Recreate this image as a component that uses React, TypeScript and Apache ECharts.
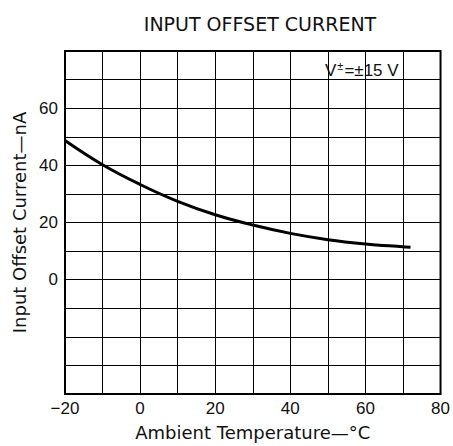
import React, { useEffect, useRef } from "react";
import * as echarts from "echarts";

const temperatures = [-20, -10, 0, 10, 20, 30, 40, 50, 60, 70, 72];
const offsetCurrent = [48.7, 40.2, 33.3, 27.4, 22.7, 19.1, 16.2, 14.0, 12.5, 11.5, 11.3];
const yLabelValues = [0, 20, 40, 60];
const xLabelValues = [-20, 0, 20, 40, 60, 80];

const FONT = "'Liberation Sans', Arial, sans-serif";
const WIDE = "'DejaVu Sans', sans-serif";

export default function App() {
  const ref = useRef<HTMLDivElement>(null);
  useEffect(() => {
    if (!ref.current) return;
    const chart = echarts.init(ref.current, null, { renderer: "svg" });
    chart.setOption({
      animation: false,
      backgroundColor: "#ffffff",
      title: {
        text: "INPUT OFFSET CURRENT",
        left: 255,
        textAlign: "center",
        top: 9,
        textStyle: { fontFamily: WIDE, fontSize: 19, fontWeight: "normal", color: "#111" },
      },
      grid: {
        left: 65,
        right: 10,
        top: 51,
        bottom: 52,
        show: true,
        borderColor: "#000",
        borderWidth: 2,
        containLabel: false,
      },
      xAxis: {
        type: "value",
        min: -20,
        max: 80,
        interval: 10,
        axisLine: { show: false },
        axisTick: { show: false },
        splitLine: { show: true, lineStyle: { color: "#000", width: 1 } },
        axisLabel: {
          margin: 6,
          fontFamily: FONT,
          fontSize: 17,
          color: "#111",
          formatter: (v: number) =>
            xLabelValues.includes(v) ? (v < 0 ? "\u2212" + Math.abs(v) : String(v)) : "",
        },
        name: "Ambient Temperature\u2014\u00b0C",
        nameLocation: "middle",
        nameGap: 29,
        nameTextStyle: { fontFamily: WIDE, fontSize: 18, color: "#111" },
      },
      yAxis: {
        type: "value",
        min: -40,
        max: 80,
        interval: 10,
        axisLine: { show: false },
        axisTick: { show: false },
        splitLine: { show: true, lineStyle: { color: "#000", width: 1 } },
        axisLabel: {
          margin: 7,
          fontFamily: FONT,
          fontSize: 17,
          color: "#111",
          formatter: (v: number) => (yLabelValues.includes(v) ? String(v) : ""),
        },
        name: "Input Offset Current\u2014nA",
        nameLocation: "middle",
        nameGap: 35,
        nameTextStyle: { fontFamily: WIDE, fontSize: 18, color: "#111" },
      },
      graphic: [
        {
          type: "text",
          left: 325,
          top: 60,
          style: {
            text: "{v|V}{s|\u00b1}{v|=\u00b115 V}",
            rich: {
              v: { fontFamily: FONT, fontSize: 17, fill: "#111" },
              s: { fontFamily: FONT, fontSize: 11, fill: "#111", padding: [0, 1, 9, 1] },
            },
          },
        },
      ],
      series: [
        {
          type: "line",
          data: temperatures.map((t, i) => [t, offsetCurrent[i]]),
          smooth: 0.4,
          showSymbol: false,
          lineStyle: { color: "#000", width: 3 },
        },
      ],
    });
    return () => chart.dispose();
  }, []);
  return (
    <div
      ref={ref}
      style={{ position: "absolute", left: 0, top: 0, width: 453, height: 446 }}
    />
  );
}
